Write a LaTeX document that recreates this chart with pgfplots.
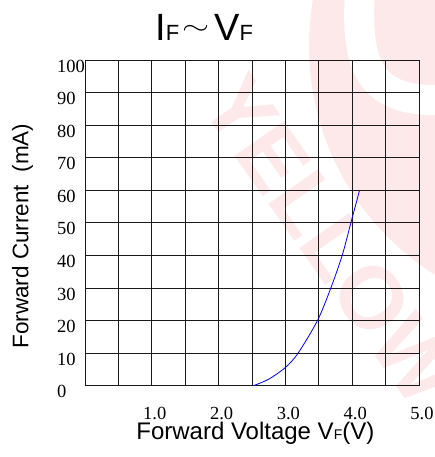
\documentclass[border=0pt]{standalone}
\usepackage{pgfplots}
\pgfplotsset{compat=1.18}
\usepackage{fontspec}
\setmainfont{Liberation Serif}
\newfontfamily\arial{Liberation Sans}
\definecolor{wm}{RGB}{253,233,233}
\begin{document}
\begin{tikzpicture}[x=1pt,y=1pt]
\useasboundingbox (0,0) rectangle (435,-457);
% watermark
\begin{scope}
\clip (0,0) rectangle (435,-457);
\fill[wm] (580,-46) circle (271);
\draw[white, line width=30pt] (360,8) .. controls (355,-70) and (372,-103) .. (445,-100);
\node[text=wm, font=\arial\bfseries\fontsize{88}{88}\selectfont, rotate=-55] at (331,-240) {YELLOW};
\end{scope}
\begin{axis}[
  at={(85pt,-385.7pt)}, anchor=south west,
  scale only axis, width=334pt, height=325.7pt,
  xmin=0, xmax=5, ymin=0, ymax=100,
  xtick={0,0.5,1,1.5,2,2.5,3,3.5,4,4.5,5},
  xticklabels={{},{},1.0,{},2.0,{},3.0,{},4.0,{},5.0},
  ytick={0,10,20,30,40,50,60,70,80,90,100},
  yticklabels={0,10,20,30,40,50,60,70,80,90,100},
  major tick length=0pt,
  grid=major,
  major grid style={black!90, line width=0.9pt},
  axis line style={black!90, line width=1pt},
  tick label style={font=\fontsize{18.5}{18.5}\selectfont, inner sep=0pt},
  xticklabel style={anchor=north, yshift=-21pt, xshift=3pt},
  yticklabel style={anchor=west, xshift=-28pt, yshift=-6pt},
  extra x ticks={2.5}, extra x tick labels={},
  extra x tick style={grid style={black!90, line width=1.8pt}},
  xlabel={Forward Voltage V{\fontsize{14}{14}\selectfont F}(V)},
  ylabel={Forward Current\ \ (mA)},
  every axis x label/.style={at={(axis description cs:0.510,-0.1637)}, anchor=base,
    inner sep=0pt, font=\arial\fontsize{24}{24}\selectfont},
  every axis y label/.style={at={(axis description cs:-0.1698,0.4596)}, anchor=base, rotate=90,
    inner sep=0pt, font=\arial\fontsize{22.5}{22.5}\selectfont},
]
\addplot[blue, line width=0.8pt, smooth] coordinates {
(2.52,0) (2.75,2.0) (3.0,5.6) (3.19,10) (3.48,20) (3.68,30) (3.85,40) (3.98,50) (4.11,60)
};
\end{axis}
\node[anchor=base west, inner sep=0pt, font=\arial\fontsize{38}{38}\selectfont] at (155,-40.7)
  {I{\fontsize{22}{22}\selectfont F}\hspace{3pt}\raisebox{6pt}{\scalebox{1.4}[1]{$\sim$}}\hspace{5pt}V{\fontsize{22}{22}\selectfont F}};
\end{tikzpicture}
\end{document}
